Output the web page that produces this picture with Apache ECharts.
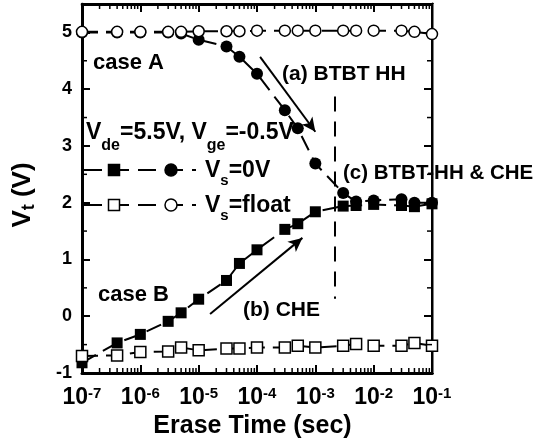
<!DOCTYPE html>
<html>
<head>
<meta charset="utf-8">
<script src="https://cdn.jsdelivr.net/npm/echarts@6/dist/echarts.min.js"></script>
<style>
  html, body { margin: 0; padding: 0; background: #fff; }
  #chart { width: 541px; height: 446px; }
</style>
</head>
<body>
<div id="chart"></div>
<script>
// Erase time (s) at which Vt was measured
const eraseTimes = [1e-7, 4e-7, 1e-6, 3e-6, 5e-6, 1e-5, 3e-5, 5e-5, 1e-4, 3e-4, 5e-4, 1e-3, 3e-3, 5e-3, 1e-2, 3e-2, 5e-2, 1e-1];

// Threshold voltage Vt (V)
const caseA_Vs0   = [5.0, 5.0, 5.0, 5.0, 4.98, 4.87, 4.75, 4.57, 4.27, 3.63, 3.31, 2.69, 2.17, 2.02, 2.04, 2.06, 2.0, 2.0];
const caseB_Vs0   = [-0.82, -0.47, -0.32, -0.09, 0.06, 0.30, 0.63, 0.93, 1.17, 1.53, 1.63, 1.84, 1.94, 1.95, 1.97, 1.95, 1.93, 1.98];
const caseA_float = [5.01, 5.01, 5.01, 5.01, 5.01, 5.02, 5.02, 5.02, 5.03, 5.03, 5.03, 5.03, 5.03, 5.03, 5.03, 5.03, 5.01, 4.97];
const caseB_float = [-0.70, -0.69, -0.63, -0.62, -0.55, -0.60, -0.57, -0.57, -0.55, -0.55, -0.52, -0.55, -0.52, -0.49, -0.52, -0.52, -0.47, -0.52];

// Annotation geometry in data units [time, Vt]
const arrowBTBT = [[1.13e-4, 4.57], [1.0e-3, 3.25]];
const arrowCHE  = [[1.57e-5, 0.04], [6.0e-4, 1.38]];
const boundaryLine = [[2.14e-3, 3.87], [2.14e-3, 0.31]];

// Axis ranges and tick values
const xMin = 1e-7, xMax = 1e-1;
const yMin = -1, yMax = 5.5;
const yMinorTicks = [-0.5, 0.5, 1.5, 2.5, 3.5, 4.5];
const xMinorTicks = [];
for (let e = -7; e < -1; e++) {
  for (let m = 2; m <= 9; m++) xMinorTicks.push(m * Math.pow(10, e));
}

const FONT = '"Liberation Sans", Arial, Helvetica, sans-serif';
const BLACK = '#000';
const dash = [16, 8];

// plot frame in pixels
const GRID = { left: 82, top: 4, width: 350, height: 369 };

const chart = echarts.init(document.getElementById('chart'), null, { renderer: 'canvas' });

function pairs(ys) { return eraseTimes.map((t, i) => [t, ys[i]]); }

function filledSeries(name, ys, symbol, size) {
  return {
    type: 'line', name, data: pairs(ys), symbol, symbolSize: size, showAllSymbol: true,
    itemStyle: { color: BLACK }, lineStyle: { color: BLACK, width: 2, type: dash },
    animation: false, silent: true
  };
}
function openSeries(name, ys, symbol, size) {
  return {
    type: 'line', name, data: pairs(ys), symbol, symbolSize: size, showAllSymbol: true,
    itemStyle: { color: '#fff', borderColor: BLACK, borderWidth: 1.5 },
    lineStyle: { color: BLACK, width: 2, type: dash },
    animation: false, silent: true
  };
}

// minor ticks drawn inward on both x sides (bottom/top)
function renderXMinor(params, api) {
  const v = api.value(0);
  const b = api.coord([v, yMin]);
  const t = api.coord([v, yMax]);
  const st = { stroke: BLACK, lineWidth: 1.5 };
  return { type: 'group', children: [
    { type: 'line', shape: { x1: b[0], y1: b[1], x2: b[0], y2: b[1] - 5 }, style: st },
    { type: 'line', shape: { x1: t[0], y1: t[1], x2: t[0], y2: t[1] + 5 }, style: st }
  ]};
}
// minor ticks drawn inward on both y sides (left/right)
function renderYMinor(params, api) {
  const v = api.value(1);
  const l = api.coord([xMin, v]);
  const r = api.coord([xMax, v]);
  const st = { stroke: BLACK, lineWidth: 1.5 };
  return { type: 'group', children: [
    { type: 'line', shape: { x1: l[0], y1: l[1], x2: l[0] + 5, y2: l[1] }, style: st },
    { type: 'line', shape: { x1: r[0], y1: r[1], x2: r[0] - 5, y2: r[1] }, style: st }
  ]};
}

function arrowItem(seg) {
  return [
    { coord: seg[0], symbol: 'none' },
    { coord: seg[1], symbol: 'arrow', symbolSize: [10, 14] }
  ];
}

const axisLine = { show: true, onZero: false, lineStyle: { color: BLACK, width: 3 } };

const textBase = { fill: BLACK, fontFamily: FONT, fontWeight: 'bold' };
function label(x, y, text, size) {
  return { type: 'text', x, y, z: 50, silent: true,
    style: Object.assign({ text, fontSize: size, align: 'left', verticalAlign: 'middle' }, textBase) };
}
// text with subscripts: {m|...} main run, {d|...} lowered run
function richLabel(x, y, text, size, subSize, subPad) {
  return { type: 'text', x, y, z: 50, silent: true,
    style: Object.assign({ text, align: 'left', verticalAlign: 'top',
      rich: {
        m: { fontSize: size, fontWeight: 'bold', fontFamily: FONT, lineHeight: size + 1, verticalAlign: 'top' },
        d: { fontSize: subSize, fontWeight: 'bold', fontFamily: FONT, verticalAlign: 'bottom', padding: [subPad, 0, 0, 0] }
      } }, textBase) };
}

// legend: dashed line with a square and a circle for each source condition
function legendRow(y, filled) {
  const fill = filled ? BLACK : '#fff';
  return [
    { type: 'line', z: 40, silent: true, shape: { x1: 84, y1: y, x2: 196, y2: y },
      style: { stroke: BLACK, lineWidth: 2, lineDash: [18, 9] } },
    { type: 'rect', z: 41, silent: true, shape: { x: 114 - 5.5, y: y - 5.5, width: 11, height: 11 },
      style: { fill, stroke: BLACK, lineWidth: 1.5 } },
    { type: 'circle', z: 41, silent: true, shape: { cx: 171, cy: y, r: 6 },
      style: { fill, stroke: BLACK, lineWidth: 1.5 } }
  ];
}

// white strips just outside the frame so edge markers are cut at the axes
function frameMasks() {
  const st = { fill: '#fff' };
  const right = GRID.left + GRID.width;
  return [
    { type: 'rect', z: 3, silent: true, shape: { x: GRID.left - 9, y: GRID.top, width: 7.5, height: GRID.height }, style: st },
    { type: 'rect', z: 3, silent: true, shape: { x: right + 1.5, y: GRID.top, width: 9, height: GRID.height }, style: st },
    { type: 'rect', z: 3, silent: true, shape: { x: GRID.left, y: 0, width: GRID.width, height: GRID.top - 1.5 }, style: st }
  ];
}

const option = {
  backgroundColor: '#fff',
  animation: false,
  grid: Object.assign({ containLabel: false }, GRID),
  xAxis: [
    {
      type: 'log', logBase: 10, min: xMin, max: xMax, position: 'bottom',
      splitNumber: 6, interval: 1,
      axisLine, splitLine: { show: false },
      axisTick: { show: true, inside: true, length: 8, lineStyle: { color: BLACK, width: 2 } },
      axisLabel: {
        margin: 13, color: BLACK,
        formatter: v => '{b|10}{s|' + Math.round(Math.log10(v)) + '}',
        rich: {
          b: { fontSize: 23, fontWeight: 'bold', fontFamily: FONT, lineHeight: 24, verticalAlign: 'top', color: BLACK },
          s: { fontSize: 15, fontWeight: 'bold', fontFamily: FONT, lineHeight: 8, verticalAlign: 'top', color: BLACK }
        }
      },
      name: 'Erase Time (sec)', nameLocation: 'middle', nameGap: 40,
      nameTextStyle: { fontSize: 25, fontWeight: 'bold', fontFamily: FONT, color: BLACK, padding: [0, 9, 0, 0] }
    },
    {
      type: 'log', logBase: 10, min: xMin, max: xMax, position: 'top',
      splitNumber: 6, interval: 1,
      axisLine, splitLine: { show: false },
      axisTick: { show: true, inside: true, length: 8, lineStyle: { color: BLACK, width: 2 } },
      axisLabel: { show: false }
    }
  ],
  yAxis: [
    {
      type: 'value', min: yMin, max: yMax, interval: 1, position: 'left',
      axisLine, splitLine: { show: false },
      axisTick: { show: true, inside: true, length: 8, lineStyle: { color: BLACK, width: 2 } },
      axisLabel: {
        margin: 10, fontSize: 18, fontWeight: 'bold', fontFamily: FONT, color: BLACK,
        formatter: v => (Number.isInteger(v) ? String(v) : '')
      },
      name: '{m|V}{d|t}{m| (V)}', nameLocation: 'middle', nameGap: 44,
      nameTextStyle: {
        color: BLACK, padding: [0, 13, 0, 0],
        rich: {
          m: { fontSize: 26, fontWeight: 'bold', fontFamily: FONT, color: BLACK, lineHeight: 27, verticalAlign: 'top' },
          d: { fontSize: 18, fontWeight: 'bold', fontFamily: FONT, color: BLACK, verticalAlign: 'bottom', padding: [10, 0, 0, 0] }
        }
      }
    },
    {
      type: 'value', min: yMin, max: yMax, interval: 1, position: 'right',
      axisLine, splitLine: { show: false },
      axisTick: { show: true, inside: true, length: 8, lineStyle: { color: BLACK, width: 2 } },
      axisLabel: { show: false }
    }
  ],
  series: [
    Object.assign(filledSeries('case A, Vs=0V', caseA_Vs0, 'circle', 12), {
      markLine: {
        silent: true, animation: false, symbol: ['none', 'none'],
        label: { show: false },
        lineStyle: { color: BLACK, width: 2, type: 'solid' },
        emphasis: { disabled: true },
        data: [
          arrowItem(arrowBTBT),
          arrowItem(arrowCHE),
          [
            { coord: boundaryLine[0], symbol: 'none', lineStyle: { type: [15, 10], width: 2, color: BLACK } },
            { coord: boundaryLine[1], symbol: 'none' }
          ]
        ]
      }
    }),
    filledSeries('case B, Vs=0V', caseB_Vs0, 'rect', 11),
    openSeries('case A, Vs=float', caseA_float, 'circle', 11),
    openSeries('case B, Vs=float', caseB_float, 'rect', 11),
    {
      type: 'custom', name: 'x minor ticks', data: xMinorTicks.map(v => [v, yMin]),
      renderItem: renderXMinor, silent: true, animation: false, z: 10
    },
    {
      type: 'custom', name: 'y minor ticks', data: yMinorTicks.map(v => [xMin, v]),
      renderItem: renderYMinor, silent: true, animation: false, z: 10
    }
  ],
  graphic: frameMasks().concat([
    label(93, 63, 'case A', 22),
    label(98, 295, 'case B', 22),
    label(282, 74, '(a) BTBT HH', 21),
    label(243, 310, '(b) CHE', 21),
    label(343, 173.5, '(c) BTBT-HH & CHE', 20.5),
    richLabel(86, 121.5, '{m|V}{d|de}{m|=5.5V, V}{d|ge}{m|=-0.5V}', 23, 16, 16),
    richLabel(205, 158.7, '{m|V}{d|s}{m|=0V}', 23, 15, 15),
    richLabel(205, 193.7, '{m|V}{d|s}{m|=float}', 23, 15, 15)
  ], legendRow(170, true), legendRow(205, false))
};

chart.setOption(option);
</script>
</body>
</html>
